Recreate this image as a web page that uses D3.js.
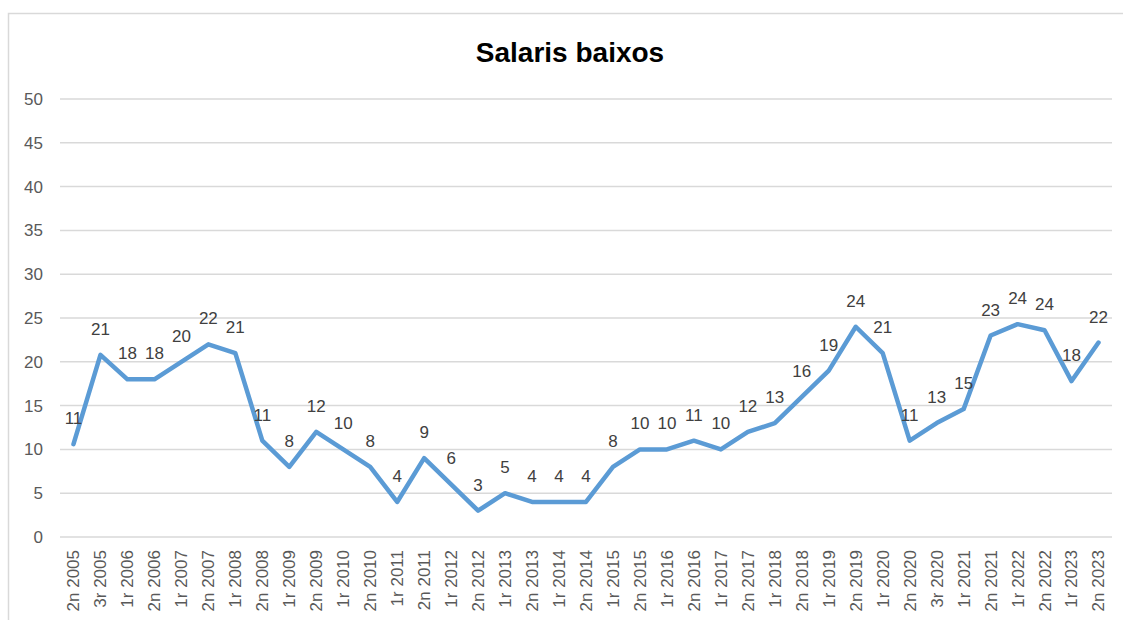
<!DOCTYPE html>
<html>
<head>
<meta charset="utf-8">
<script src="https://cdn.jsdelivr.net/npm/d3@7"></script>
<style>
	body { margin: 0; background: #fff; }
	svg { display: block; font-family: 'Liberation Sans', Arial, sans-serif; }
</style>
</head>
<body>
<div id="chart"></div>
<script>
var periods = ['2n 2005', '3r 2005', '1r 2006', '2n 2006', '1r 2007', '2n 2007', '1r 2008', '2n 2008',
	'1r 2009', '2n 2009', '1r 2010', '2n 2010', '1r 2011', '2n 2011', '1r 2012', '2n 2012',
	'1r 2013', '2n 2013', '1r 2014', '2n 2014', '1r 2015', '2n 2015', '1r 2016', '2n 2016',
	'1r 2017', '2n 2017', '1r 2018', '2n 2018', '1r 2019', '2n 2019', '1r 2020', '2n 2020',
	'3r 2020', '1r 2021', '2n 2021', '1r 2022', '2n 2022', '1r 2023', '2n 2023'];
var values = [10.6, 20.8, 18, 18, 20, 22, 21, 11,
	8, 12, 10, 8, 4, 9, 6, 3,
	5, 4, 4, 4, 8, 10, 10, 11,
	10, 12, 13, 16, 19, 24, 21, 11,
	13, 14.6, 23, 24.3, 23.6, 17.8, 22.2];
var yTicks = [0, 5, 10, 15, 20, 25, 30, 35, 40, 45, 50];
var title = 'Salaris baixos';

var width = 1123, height = 620;
var margin = { top: 99, left: 60, bottom: 83, right: 11 };

var svg = d3.select('#chart').append('svg')
	.attr('width', width)
	.attr('height', height);

// chart area border
svg.append('rect')
	.attr('x', 8.5).attr('y', 13.5)
	.attr('width', width).attr('height', height)
	.attr('fill', 'none')
	.attr('stroke', '#d9d9d9')
	.attr('stroke-width', 1.5);

svg.append('text')
	.attr('x', 570).attr('y', 62)
	.attr('text-anchor', 'middle')
	.style('font-size', '28px')
	.style('font-weight', 'bold')
	.style('fill', '#000')
	.text(title);

var innerW = width - margin.left - margin.right;
var innerH = height - margin.top - margin.bottom;

var x = d3.scaleBand().domain(periods).range([0, innerW]);
var y = d3.scaleLinear().domain([0, 50]).range([innerH, 0]);

var g = svg.append('g')
	.attr('transform', 'translate(' + [margin.left, margin.top] + ')');

// grid
g.append('g').selectAll('line')
	.data(yTicks)
	.enter().append('line')
	.attr('x1', 0).attr('x2', innerW)
	.attr('y1', function(d) { return y(d) })
	.attr('y2', function(d) { return y(d) })
	.attr('stroke', '#d9d9d9')
	.attr('stroke-width', 1.5);

// y axis
var yAxis = g.append('g')
	.call(d3.axisLeft(y).tickValues(yTicks).tickSize(0).tickPadding(17));
yAxis.select('.domain').remove();
yAxis.selectAll('text')
	.style('font-size', '17px')
	.style('fill', '#595959')
	.style('font-family', "'Liberation Sans', Arial, sans-serif");

// x axis
var xAxis = g.append('g')
	.attr('transform', 'translate(0,' + innerH + ')')
	.call(d3.axisBottom(x).tickSize(0).tickPadding(0));
xAxis.select('.domain').remove();
xAxis.selectAll('text')
	.attr('transform', 'rotate(-90)')
	.attr('text-anchor', 'end')
	.attr('x', -13)
	.attr('y', 0)
	.attr('dy', '0.35em')
	.style('font-size', '17px')
	.style('fill', '#595959')
	.style('font-family', "'Liberation Sans', Arial, sans-serif");

// line
var line = d3.line()
	.x(function(d, i) { return x(periods[i]) + x.bandwidth() / 2 })
	.y(function(d) { return y(d) });

g.append('path')
	.datum(values)
	.attr('d', line)
	.attr('fill', 'none')
	.attr('stroke', '#5b9bd5')
	.attr('stroke-width', 4.5)
	.attr('stroke-linejoin', 'round')
	.attr('stroke-linecap', 'round');

// data labels
g.append('g').selectAll('text')
	.data(values)
	.enter().append('text')
	.attr('x', function(d, i) { return x(periods[i]) + x.bandwidth() / 2 })
	.attr('y', function(d) { return y(d) - 20 })
	.attr('text-anchor', 'middle')
	.style('font-size', '17px')
	.style('fill', '#404040')
	.text(function(d) { return d3.format('.0f')(d) });
</script>
</body>
</html>
